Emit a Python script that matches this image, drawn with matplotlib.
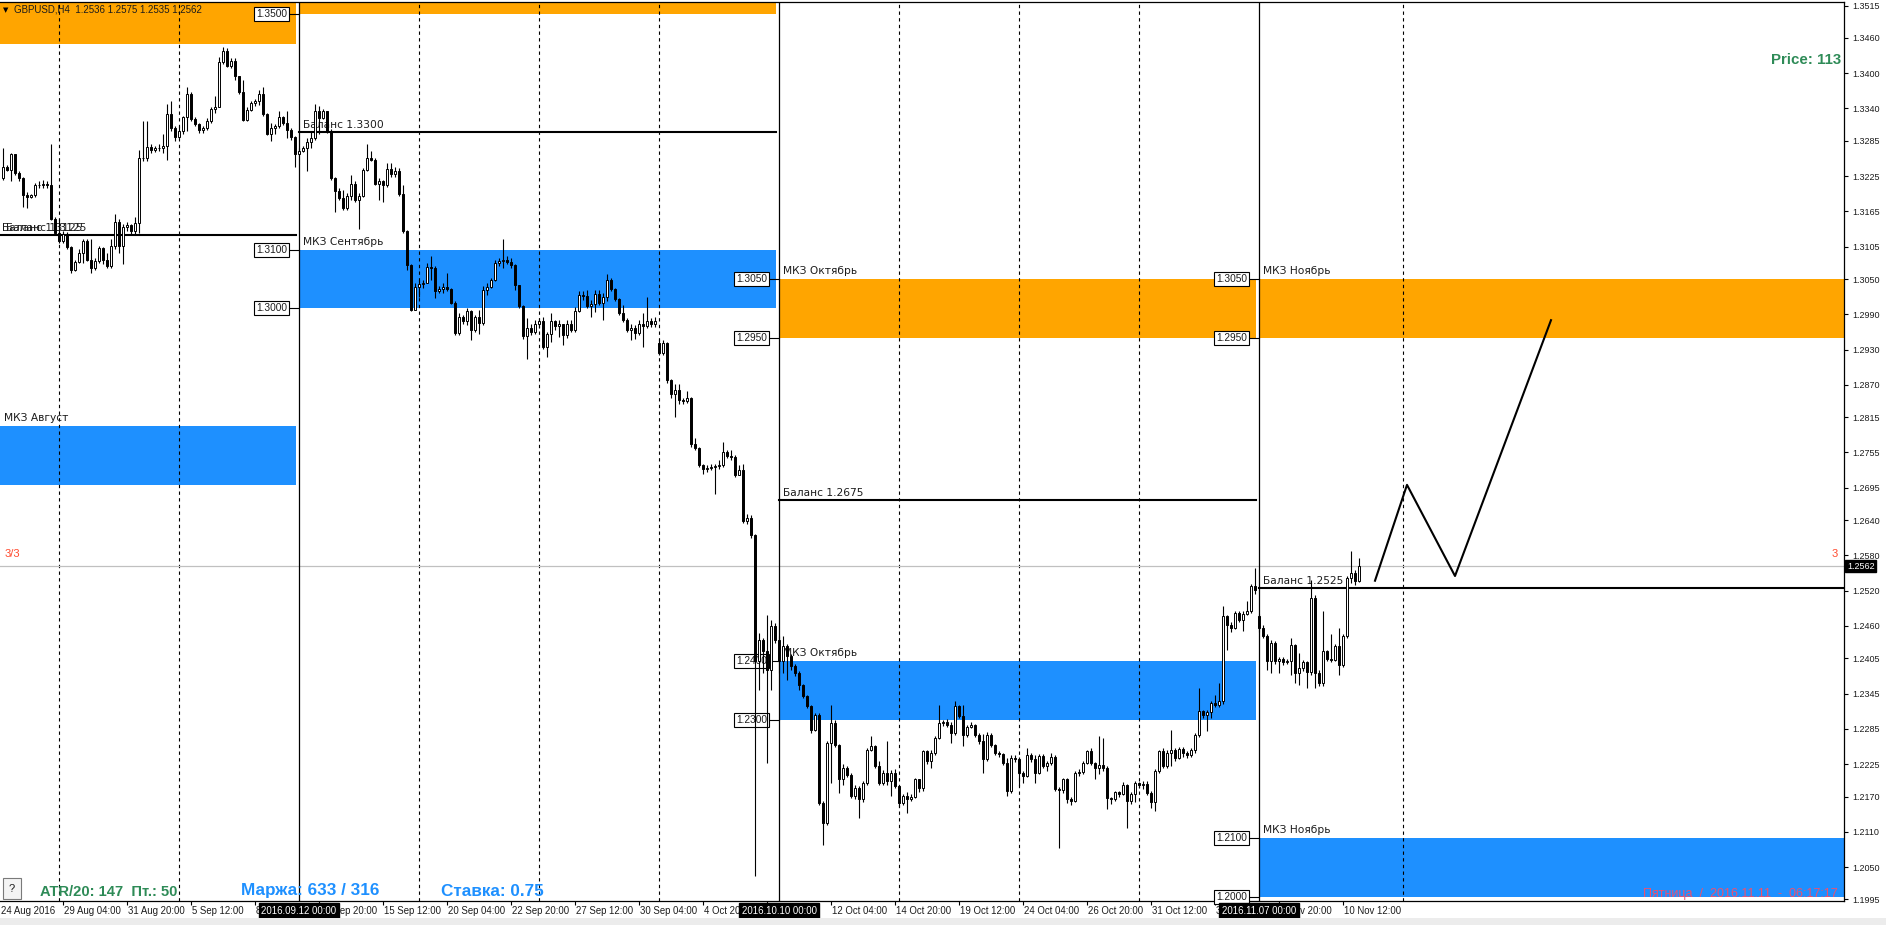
import numpy as np
import matplotlib
matplotlib.use("Agg")
from matplotlib import pyplot as plt
from matplotlib.patches import Rectangle
from matplotlib import transforms

plt.rcParams['font.family'] = ['Liberation Sans', 'DejaVu Sans']

# GBPUSD H4 candles, prices x 10000 (13241 -> 1.3241)
# bar 0 = 24 Aug 2016 00:00, first drawn bar is 4
first_bar = 4
first_open = 13221
closes = [
    # 24 Aug - 9 Sep
    13241, 13236, 13262, 13230, 13221, 13193, 13190, 13193, 13210, 13209,
    13211, 13210, 13152, 13129, 13115, 13127, 13104, 13066, 13079, 13095,
    13115, 13083, 13069, 13081, 13102, 13083, 13072, 13106, 13147, 13106,
    13138, 13142, 13132, 13146, 13256, 13255, 13274, 13270, 13273, 13272,
    13276, 13330, 13307, 13291, 13302, 13325, 13365, 13322, 13313, 13303,
    13306, 13319, 13339, 13343, 13419, 13438, 13412, 13421, 13395, 13368,
    13320, 13337, 13349, 13352, 13364, 13330, 13297, 13307, 13310, 13326,
    13316, 13303, 13291, 13263,
    # 12 Sep - 7 Oct
    13267, 13272, 13283, 13289, 13335, 13324, 13335, 13302, 13221, 13200,
    13187, 13171, 13191, 13212, 13185, 13191, 13235, 13255, 13253, 13211,
    13217, 13209, 13237, 13228, 13234, 13194, 13131, 13073, 12998, 13036,
    13042, 13044, 13071, 13069, 13030, 13033, 13036, 13033, 13010, 12958,
    12985, 12979, 12996, 12964, 12985, 12975, 13031, 13036, 13048, 13077,
    13081, 13082, 13079, 13073, 13039, 13004, 12953, 12967, 12960, 12973,
    12979, 12935, 12956, 12979, 12970, 12973, 12954, 12973, 12964, 12996,
    13022, 13021, 13004, 13008, 13025, 13010, 13019, 13048, 13033, 13016,
    12993, 12981, 12964, 12967, 12958, 12973, 12970, 12979, 12974, 12979,
    12924, 12942, 12878, 12855, 12862, 12845, 12842, 12847, 12769, 12763,
    12734, 12727, 12729, 12730, 12732, 12734, 12755, 12749, 12748, 12717,
    12725, 12638, 12644, 12614, 12400, 12437, 12417, 12386, 12460, 12437,
    # 10 Oct - 4 Nov
    12400, 12426, 12409, 12392, 12380, 12360, 12341, 12324, 12284, 12309,
    12159, 12125, 12261, 12295, 12258, 12199, 12219, 12207, 12171, 12185,
    12165, 12193, 12250, 12256, 12222, 12193, 12210, 12196, 12210, 12188,
    12159, 12171, 12165, 12170, 12199, 12185, 12247, 12230, 12244, 12270,
    12295, 12296, 12292, 12278, 12324, 12307, 12275, 12288, 12292, 12275,
    12264, 12233, 12275, 12258, 12244, 12243, 12227, 12179, 12236, 12233,
    12210, 12205, 12241, 12233, 12210, 12239, 12222, 12227, 12238, 12182,
    12181, 12199, 12165, 12162, 12210, 12211, 12227, 12247, 12227, 12219,
    12223, 12219, 12168, 12166, 12177, 12175, 12190, 12162, 12175, 12193,
    12189, 12192, 12176, 12160, 12213, 12247, 12222, 12244, 12250, 12236,
    12251, 12244, 12241, 12249, 12275, 12315, 12308, 12313, 12329, 12325,
    12332, 12477, 12462, 12457, 12482, 12471, 12481, 12485, 12528, 12522,
    # 7 Nov - 11 Nov
    12457, 12443, 12400, 12431, 12400, 12404, 12398, 12400, 12428, 12380,
    12389, 12398, 12381, 12508, 12380, 12363, 12417, 12404, 12403, 12426,
    12394, 12443, 12542, 12550, 12536, 12562,
]
highs = [
    13273, 13244, 13264, 13263, 13234, 13224, 13198, 13195, 13213, 13216,
    13218, 13216, 13279, 13155, 13152, 13132, 13130, 13106, 13083, 13101,
    13118, 13118, 13118, 13086, 13106, 13104, 13095, 13118, 13161, 13152,
    13144, 13147, 13144, 13155, 13270, 13319, 13319, 13279, 13276, 13279,
    13296, 13348, 13353, 13310, 13310, 13328, 13376, 13368, 13325, 13316,
    13310, 13324, 13342, 13362, 13428, 13445, 13442, 13425, 13425, 13396,
    13388, 13342, 13353, 13356, 13371, 13376, 13333, 13316, 13313, 13336,
    13328, 13336, 13307, 13293,
    13273, 13276, 13290, 13302, 13348, 13345, 13339, 13336, 13305, 13224,
    13204, 13201, 13196, 13227, 13216, 13196, 13239, 13279, 13267, 13256,
    13221, 13218, 13247, 13247, 13241, 13239, 13210, 13134, 13076, 13043,
    13049, 13049, 13078, 13089, 13072, 13038, 13043, 13060, 13035, 13012,
    12992, 12989, 13000, 12997, 12989, 12997, 13038, 13043, 13052, 13083,
    13086, 13118, 13089, 13086, 13076, 13040, 13006, 12983, 12974, 12980,
    12983, 12986, 12960, 12992, 12980, 12980, 12974, 12980, 12980, 13003,
    13029, 13029, 13032, 13015, 13032, 13032, 13026, 13058, 13052, 13035,
    13017, 13006, 12983, 12974, 12971, 12980, 12992, 13020, 12983, 12986,
    12948, 12946, 12943, 12880, 12871, 12871, 12848, 12860, 12850, 12779,
    12765, 12736, 12733, 12736, 12736, 12742, 12773, 12759, 12759, 12750,
    12733, 12735, 12650, 12648, 12616, 12448, 12440, 12479, 12471, 12465,
    12443, 12443, 12430, 12412, 12395, 12383, 12362, 12343, 12326, 12312,
    12312, 12162, 12265, 12326, 12300, 12260, 12225, 12222, 12210, 12190,
    12188, 12196, 12253, 12273, 12258, 12230, 12215, 12264, 12215, 12216,
    12190, 12175, 12178, 12174, 12202, 12200, 12250, 12250, 12250, 12273,
    12326, 12301, 12302, 12297, 12332, 12326, 12326, 12292, 12296, 12294,
    12278, 12276, 12280, 12278, 12260, 12248, 12244, 12236, 12240, 12240,
    12238, 12213, 12253, 12244, 12240, 12242, 12242, 12230, 12244, 12240,
    12187, 12202, 12202, 12170, 12213, 12216, 12230, 12250, 12252, 12228,
    12273, 12270, 12222, 12170, 12180, 12180, 12194, 12192, 12178, 12196,
    12194, 12197, 12196, 12180, 12216, 12250, 12252, 12250, 12284, 12252,
    12255, 12254, 12247, 12252, 12278, 12355, 12318, 12318, 12332, 12343,
    12363, 12494, 12479, 12467, 12485, 12485, 12485, 12502, 12531, 12559,
    12480, 12462, 12446, 12436, 12434, 12408, 12407, 12404, 12440, 12430,
    12414, 12402, 12400, 12539, 12512, 12386, 12485, 12420, 12446, 12430,
    12457, 12446, 12545, 12587, 12556, 12575,
]
lows = [
    13218, 13233, 13216, 13227, 13216, 13172, 13170, 13187, 13190, 13204,
    13205, 13205, 13150, 13124, 13111, 13112, 13101, 13061, 13063, 13077,
    13078, 13081, 13061, 13066, 13078, 13075, 13069, 13069, 13101, 13095,
    13075, 13132, 13127, 13127, 13129, 13250, 13250, 13264, 13266, 13267,
    13264, 13253, 13302, 13284, 13290, 13296, 13302, 13319, 13310, 13299,
    13299, 13303, 13316, 13333, 13342, 13416, 13410, 13408, 13388, 13365,
    13318, 13318, 13336, 13345, 13346, 13328, 13295, 13284, 13296, 13307,
    13312, 13290, 13287, 13241,
    13262, 13266, 13233, 13272, 13286, 13296, 13322, 13299, 13218, 13164,
    13184, 13167, 13167, 13184, 13181, 13135, 13190, 13234, 13250, 13209,
    13184, 13181, 13207, 13224, 13224, 13191, 13128, 13066, 12996, 12997,
    13019, 13035, 13043, 13048, 13017, 13026, 13027, 13029, 13008, 12954,
    12954, 12974, 12971, 12946, 12960, 12957, 12971, 13023, 13035, 13046,
    13072, 13069, 13075, 13069, 13032, 13000, 12948, 12914, 12954, 12957,
    12966, 12931, 12917, 12943, 12963, 12951, 12937, 12950, 12960, 12960,
    12994, 13015, 13000, 12986, 12994, 13006, 12980, 13012, 13029, 13012,
    12989, 12977, 12960, 12946, 12948, 12954, 12934, 12966, 12969, 12969,
    12920, 12920, 12874, 12848, 12816, 12837, 12837, 12839, 12765, 12759,
    12730, 12719, 12722, 12725, 12684, 12727, 12730, 12745, 12742, 12713,
    12716, 12635, 12633, 12610, 12035, 12352, 12380, 12227, 12352, 12431,
    12380, 12380, 12369, 12385, 12375, 12352, 12338, 12320, 12278, 12281,
    12156, 12088, 12122, 12193, 12255, 12176, 12190, 12203, 12168, 12166,
    12134, 12160, 12190, 12247, 12219, 12190, 12190, 12190, 12171, 12185,
    12153, 12156, 12142, 12162, 12168, 12178, 12180, 12225, 12219, 12241,
    12268, 12290, 12288, 12261, 12275, 12303, 12256, 12272, 12286, 12272,
    12260, 12210, 12230, 12254, 12240, 12238, 12224, 12171, 12176, 12228,
    12188, 12193, 12203, 12228, 12193, 12208, 12218, 12214, 12224, 12180,
    12083, 12176, 12159, 12156, 12160, 12205, 12208, 12225, 12224, 12199,
    12208, 12214, 12148, 12158, 12163, 12170, 12173, 12117, 12158, 12160,
    12185, 12183, 12173, 12151, 12145, 12210, 12218, 12219, 12222, 12230,
    12233, 12238, 12236, 12238, 12244, 12272, 12303, 12281, 12304, 12322,
    12322, 12328, 12420, 12450, 12455, 12466, 12451, 12478, 12482, 12515,
    12450, 12440, 12386, 12380, 12396, 12380, 12394, 12395, 12377, 12363,
    12360, 12383, 12355, 12376, 12355, 12358, 12358, 12400, 12398, 12400,
    12377, 12390, 12440, 12533, 12530, 12535,
]
gap_opens = {168: 12942, 318: 12477}   # monday opens with a gap
bid = 1.2562

# month separators
month_bars = [78, 198, 318]
month_tags = ['2016.09.12 00:00', '2016.10.10 00:00', '2016.11.07 00:00']
grid_bars = [18, 48, 108, 138, 168, 228, 258, 288, 354]

# zones: (start bar, end bar, low, high)
orange_zones = [(-40, 77.25, 1.3450, 1.3550), (78, 197.25, 1.3500, 1.3600),
                (198, 317.25, 1.2950, 1.3050), (318, 480, 1.2950, 1.3050)]
blue_zones = [(-40, 77.25, 1.2700, 1.2800), (78, 197.25, 1.3000, 1.3100),
              (198, 317.25, 1.2300, 1.2400), (318, 480, 1.2000, 1.2100)]
zone_names = ['МКЗ Август', 'МКЗ Сентябрь', 'МКЗ Октябрь', 'МКЗ Ноябрь']
balances = [(-40, 77.25, 1.3125), (78, 197.25, 1.3300),
            (198, 317.25, 1.2675), (318, 480, 1.2525)]

forecast_x = [347, 355, 367, 391]
forecast_y = [1.2537, 1.2700, 1.2545, 1.2980]

price_labels = ['1.3515', '1.3460', '1.3400', '1.3340', '1.3285', '1.3225', '1.3165',
                '1.3105', '1.3050', '1.2990', '1.2930', '1.2870', '1.2815', '1.2755',
                '1.2695', '1.2640', '1.2580', '1.2520', '1.2460', '1.2405', '1.2345',
                '1.2285', '1.2225', '1.2170', '1.2110', '1.2050', '1.1995']
time_ticks = [19, 35, 51, 67, 83, 99, 115, 131, 147, 163, 179, 195, 211, 227,
              243, 259, 275, 291, 307, 323, 339]
time_labels = ['29 Aug 04:00', '31 Aug 20:00', '5 Sep 12:00', '8 Sep 04:00',
               '12 Sep 20:00', '15 Sep 12:00', '20 Sep 04:00', '22 Sep 20:00',
               '27 Sep 12:00', '30 Sep 04:00', '4 Oct 20:00', '7 Oct 12:00',
               '12 Oct 04:00', '14 Oct 20:00', '19 Oct 12:00', '24 Oct 04:00',
               '26 Oct 20:00', '31 Oct 12:00', '3 Nov 04:00', '7 Nov 20:00',
               '10 Nov 12:00']

W, H = 1886, 925
ORANGE = '#FFA500'
BLUE = '#1E90FF'
TXT = '#1c1c1c'

fig = plt.figure(figsize=(W / 100, H / 100), dpi=100)
ax = fig.add_axes([0, 1 - 901 / H, 1844 / W, 899 / H])
ylo, yhi = 1.19924, 1.35210
ax.set_xlim(3.25, 464.25)
ax.set_ylim(ylo, yhi)


def fx(px):
    return px / W


def fy(py):
    return 1 - py / H


# zones + price tags at the month line
for zones in (orange_zones, blue_zones):
    color = ORANGE if zones is orange_zones else BLUE
    for k, (x0, x1, lo, hi) in enumerate(zones):
        ax.add_patch(Rectangle((x0, lo), x1 - x0, hi - lo, fc=color, ec='none', zorder=1))
        if hi < yhi:
            ax.annotate(zone_names[k], (max(x0, 3.25) + 1.1, hi), xytext=(0, 5),
                        textcoords='offset pixels', family='DejaVu Sans', fontsize=7.7,
                        color=TXT, va='baseline', ha='left', zorder=3)
        if x0 in month_bars:
            for p in (lo, hi):
                if ylo < p < yhi:
                    ax.plot([x0 - 2.5, x0], [p, p], color='black', lw=0.8, zorder=4)
                    ax.text(x0 - 3.0, p, f'{p:.4f}', ha='right', va='center', fontsize=7.3,
                            color=TXT, zorder=4,
                            bbox=dict(boxstyle='square,pad=0.2', fc='white', ec='black', lw=0.8))

# balance lines
for k, (x0, x1, p) in enumerate(balances):
    ax.plot([x0, x1], [p, p], color='black', lw=1.5, zorder=3)
    offsets = [-2, 2] if k == 0 else [0]
    for off in offsets:
        ax.annotate(f'Баланс {p:.4f}', (max(x0, 3.25) + 1.0, p), xytext=(off, 4),
                    textcoords='offset pixels', family='DejaVu Sans', fontsize=7.7,
                    color=TXT, va='baseline', ha='left', zorder=3)

# grid and month separators
for b in grid_bars:
    ax.axvline(b, color='black', lw=0.8, ls=(0, (3, 3)), zorder=2)
for b in month_bars:
    ax.axvline(b, color='black', lw=0.9, zorder=3)

ax.axhline(bid, color='#C0C0C0', lw=0.9, zorder=2)

# candles
c = np.array(closes) / 10000
h = np.array(highs) / 10000
l = np.array(lows) / 10000
o = np.array([first_open] + closes[:-1]) / 10000
for b, v in gap_opens.items():
    o[b - first_bar] = v / 10000
idx = np.arange(first_bar, first_bar + len(closes))
up = c >= o
ax.vlines(idx, l, h, color='black', lw=0.8, zorder=5)
ax.bar(idx[up], (c - o)[up], bottom=o[up], width=0.5, fc='white', ec='black', lw=0.7, zorder=6)
ax.bar(idx[~up], (o - c)[~up], bottom=c[~up], width=0.5, fc='black', ec='black', lw=0.7, zorder=6)

ax.plot(forecast_x, forecast_y, color='black', lw=1.5, zorder=7)

# axes look
ax.spines['left'].set_visible(False)
for side in ['top', 'right', 'bottom']:
    ax.spines[side].set_linewidth(0.9)
ax.yaxis.tick_right()
ax.set_yticks([float(s) for s in price_labels])
ax.set_yticklabels(price_labels)
ax.tick_params(axis='y', direction='out', length=3, width=0.8, pad=3, labelsize=6.5,
               labelcolor=TXT)
ax.set_xticks(time_ticks)
ax.tick_params(axis='x', direction='out', length=3, width=0.8, labelbottom=False)

xtrans = transforms.blended_transform_factory(ax.transData, ax.transAxes)
ty = -9.5 / 899
ax.text(3.5, ty, '24 Aug 2016', transform=xtrans, ha='left', va='center',
        fontsize=6.9, color=TXT, clip_on=False)
for t, s in zip(time_ticks, time_labels):
    ax.text(t + 0.3, ty, s, transform=xtrans, ha='left', va='center',
            fontsize=6.9, color=TXT, clip_on=False)
for b, s in zip(month_bars, month_tags):
    ax.text(b, ty, s, transform=xtrans, ha='center', va='center', fontsize=6.9,
            color='white', clip_on=False, zorder=10,
            bbox=dict(boxstyle='square,pad=0.25', fc='black', ec='black'))

# bid tag on the price scale
ytrans = transforms.blended_transform_factory(ax.transAxes, ax.transData)
ax.text(1 + 3 / 1844, bid, f'{bid:.4f}', transform=ytrans, ha='left', va='center',
        fontsize=6.5, color='white', clip_on=False, zorder=10,
        bbox=dict(boxstyle='square,pad=0.2', fc='black', ec='black'))
ax.text(4.5, 1.2582, '3/3', color='#FF4A2E', fontsize=8, ha='left', va='center', zorder=8)
ax.text(1838 / 1844, 1.2582, '3', transform=ytrans, color='#FF4A2E', fontsize=8,
        ha='right', va='center', zorder=8)

# header and info texts
fig.text(fx(3), fy(10), '▼', family='DejaVu Sans', fontsize=5, color='black',
         ha='left', va='center')
fig.text(fx(14), fy(9.5), 'GBPUSD,H4  1.2536 1.2575 1.2535 1.2562', fontsize=7,
         color=TXT, ha='left', va='center')
fig.text(fx(1841), fy(60), 'Price: 113', fontsize=10.8, weight='bold', color='#2E8B57',
         ha='right', va='center')
fig.text(fx(40), fy(892), 'ATR/20: 147  Пт.: 50', fontsize=10.6, weight='bold',
         color='#2E8B57', ha='left', va='center')
fig.text(fx(241), fy(891), 'Маржа: 633 / 316', fontsize=12.3, weight='bold',
         color=BLUE, ha='left', va='center')
fig.text(fx(441), fy(891), 'Ставка: 0.75', fontsize=12.3, weight='bold',
         color=BLUE, ha='left', va='center')
fig.text(fx(1838), fy(894), 'Пятница  /  2016.11.11  -  06:17:17', fontsize=9,
         color='#F0506E', ha='right', va='center', zorder=10)

fig.add_artist(Rectangle((fx(3), fy(899)), 18 / W, 21 / H, transform=fig.transFigure,
                         fc='#F4F4F4', ec='#7A7A7A', lw=0.8))
fig.text(fx(12), fy(888.5), '?', fontsize=8, color=TXT, ha='center', va='center')
fig.add_artist(Rectangle((0, 0), 1, 7 / H, transform=fig.transFigure,
                         fc='#ECECEC', ec='none'))

fig.savefig('out.png', dpi=100)
